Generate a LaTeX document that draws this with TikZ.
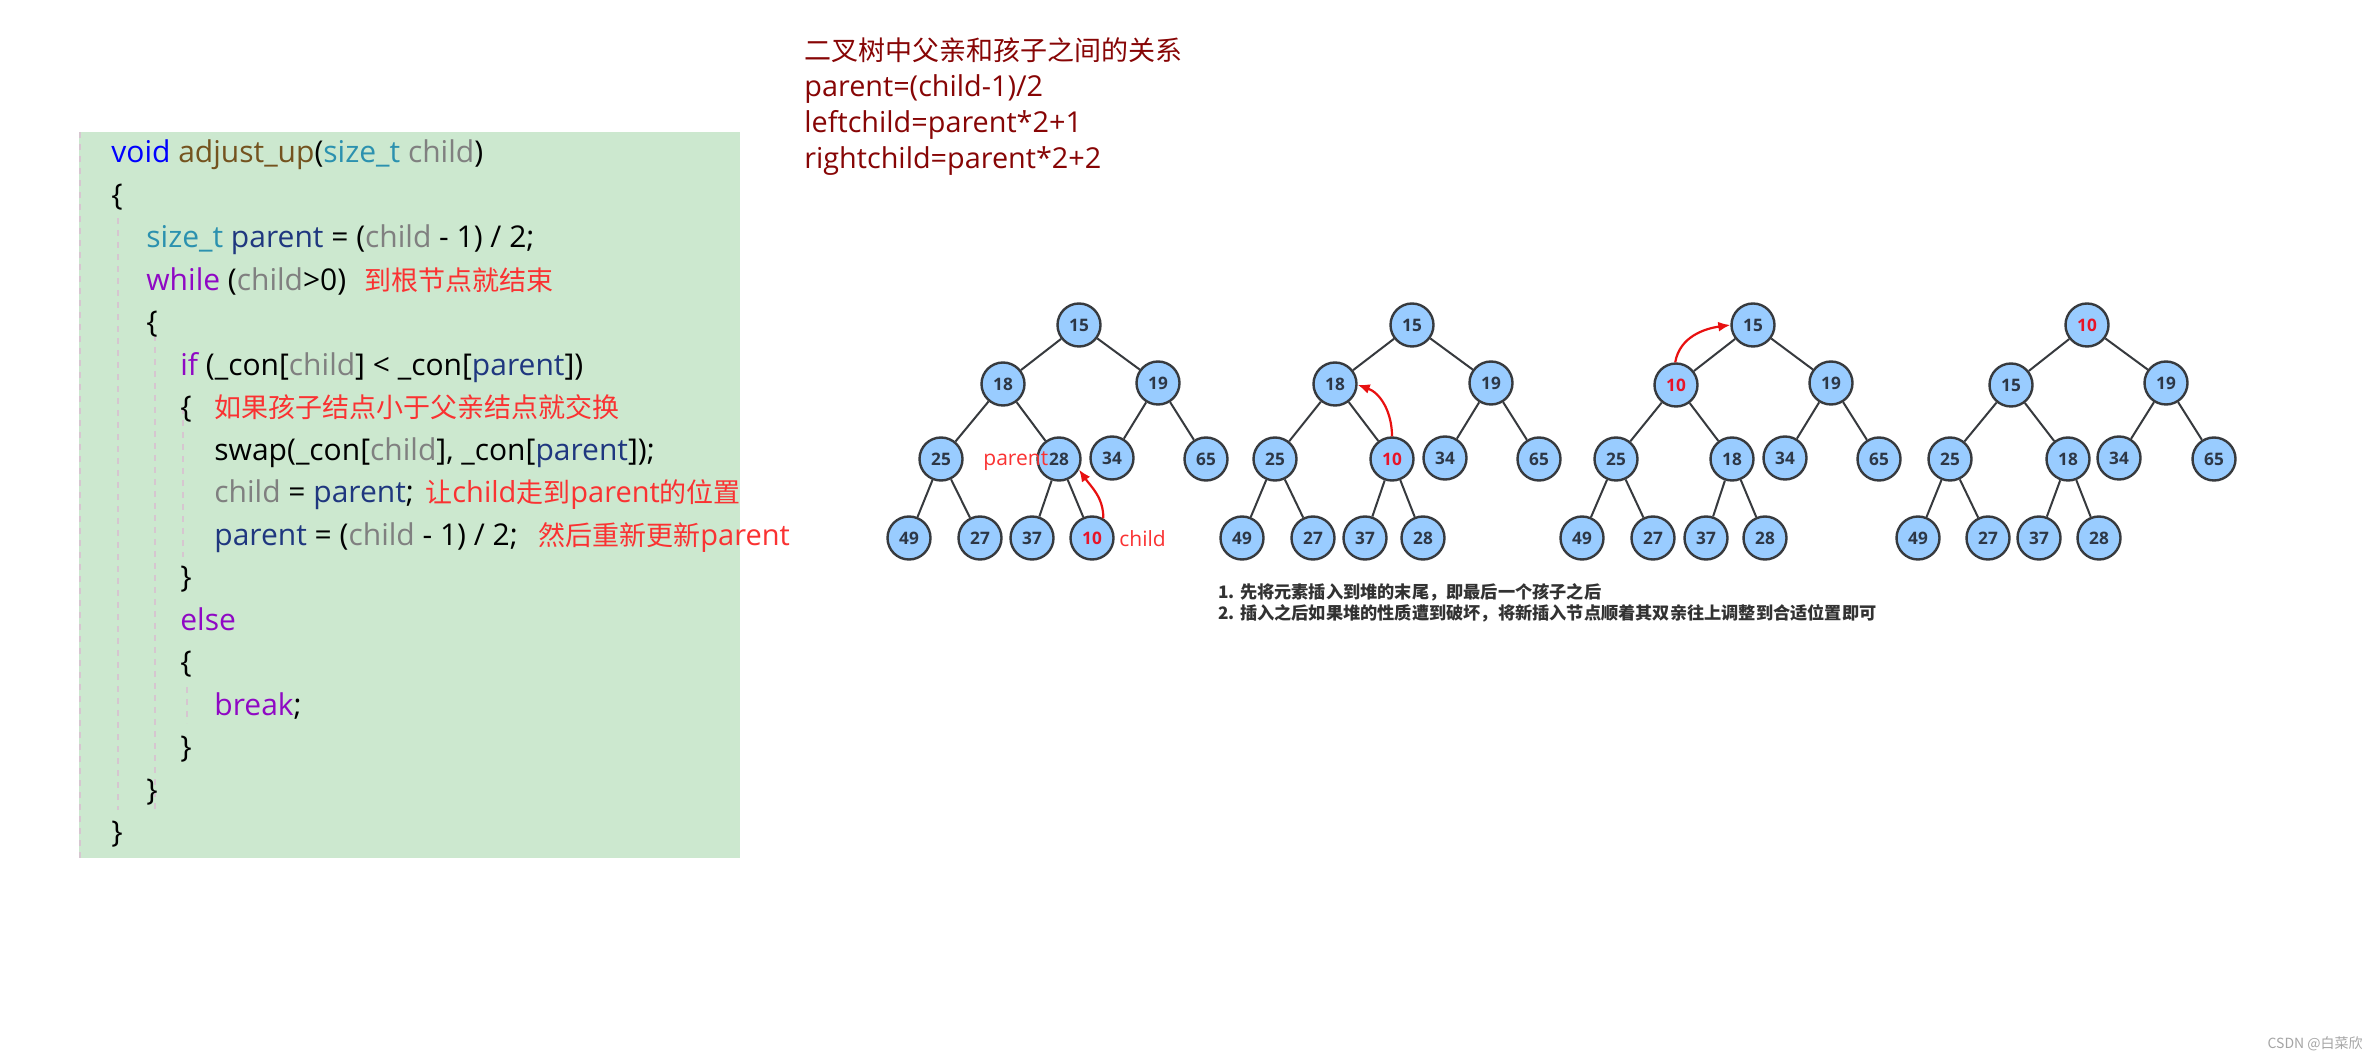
\documentclass[tikz,border=0pt]{standalone}
\usepackage{fontspec}
\setmainfont{Open Sans}
\newfontfamily\cjk{Noto Sans CJK SC}
\newfontfamily\numfont{Open Sans}
\usetikzlibrary{arrows.meta}
\definecolor{codebg}{RGB}{204,232,207}
\definecolor{guidecol}{RGB}{214,198,208}
\definecolor{kwblue}{RGB}{0,0,255}
\definecolor{fncol}{RGB}{116,83,31}
\definecolor{tycol}{RGB}{43,145,175}
\definecolor{chcol}{RGB}{128,128,128}
\definecolor{pacol}{RGB}{31,55,127}
\definecolor{kpcol}{RGB}{143,8,196}
\definecolor{cmcol}{RGB}{250,50,50}
\definecolor{hdcol}{RGB}{135,5,5}
\definecolor{nodefill}{RGB}{153,204,255}
\definecolor{nodeline}{RGB}{55,58,62}
\definecolor{numcol}{RGB}{45,55,70}
\definecolor{numred}{RGB}{232,20,40}
\definecolor{arrred}{RGB}{232,16,16}
\definecolor{notecol}{RGB}{50,50,50}
\definecolor{markcol}{RGB}{165,165,165}
\newcommand\Ckw[1]{\textcolor{kwblue}{#1}}
\newcommand\Cfn[1]{\textcolor{fncol}{#1}}
\newcommand\Cty[1]{\textcolor{tycol}{#1}}
\newcommand\Cvc[1]{\textcolor{chcol}{#1}}
\newcommand\Cvp[1]{\textcolor{pacol}{#1}}
\newcommand\Ckp[1]{\textcolor{kpcol}{#1}}
\newcommand\CJ[1]{{\cjk\fontsize{13.5}{16}\selectfont #1}}
\tikzset{
  codeline/.style={anchor=base west, inner sep=0pt, text=black, font=\fontsize{15}{17}\selectfont},
  cmt/.style={anchor=base west, inner sep=0pt, text=cmcol, font=\fontsize{14.5}{17}\selectfont},
  hdline/.style={anchor=base west, inner sep=0pt, text=hdcol, font=\fontsize{14.4}{17}\selectfont},
  guide/.style={draw=guidecol, line width=1pt, dash pattern=on 3pt off 3pt},
  hn/.style={circle, draw=nodeline, fill=nodefill, line width=1.2pt, minimum size=21.5pt, inner sep=0pt,
    font=\numfont\bfseries\fontsize{8.6}{10}\selectfont, text=numcol},
  hnred/.style={hn, text=numred},
  edge/.style={draw=nodeline, line width=1pt},
  redarrow/.style={draw=arrred, line width=1.1pt, -{Latex[length=6pt,width=5pt]}},
  redlabel/.style={anchor=base west, inner sep=0pt, text=cmcol, font=\fontsize{10.5}{12}\selectfont},
  note/.style={anchor=base west, inner sep=0pt, text=notecol, font=\cjk\bfseries\fontsize{8.6}{11}\selectfont},
}
\begin{document}
\begin{tikzpicture}[x=0.5pt, y=-0.5pt]
\useasboundingbox (0,0) rectangle (2378,1058);
\fill[white] (0,0) rectangle (2378,1058);
% code box
\fill[codebg] (79,132) rectangle (740,858);
\draw[guide] (80,132) -- (80,858);
\draw[guide] (118,218) -- (118,810);
\draw[guide] (155,335) -- (155,810);
\draw[guide] (183,408) -- (183,557);
\draw[guide] (187,687) -- (187,723);
% code lines (baseline = 163 + 42.47 i)
\node[codeline] (c0) at (111,163) {\Ckw{void} \Cfn{adjust\_up}(\Cty{size\_t} \Cvc{child})};
\node[codeline] (c1) at (111,205.5) {\{};
\node[codeline] (c2) at (146,247.9) {\Cty{size\_t} \Cvp{parent} = (\Cvc{child} - 1) / 2;};
\node[codeline] (c3) at (146,290.4) {\Ckp{while} (\Cvc{child}>0)};
\node[cmt] (m3) at (364,290.4) {\CJ{到根节点就结束}};
\node[codeline] (c4) at (146,332.9) {\{};
\node[codeline] (c5) at (180,375.4) {\Ckp{if} (\_con[\Cvc{child}] < \_con[\Cvp{parent}])};
\node[codeline] (c6) at (180,417.8) {\{};
\node[cmt] (m6) at (214,417.8) {\CJ{如果孩子结点小于父亲结点就交换}};
\node[codeline] (c7) at (214,460.3) {swap(\_con[\Cvc{child}], \_con[\Cvp{parent}]);};
\node[codeline] (c8) at (214,502.8) {\Cvc{child} = \Cvp{parent};};
\node[cmt] (m8) at (425,502.8) {\CJ{让}child\CJ{走到}parent\CJ{的位置}};
\node[codeline] (c9) at (214,545.2) {\Cvp{parent} = (\Cvc{child} - 1) / 2;};
\node[cmt] (m9) at (538,545.2) {\CJ{然后重新更新}parent};
\node[codeline] (c10) at (180,587.7) {\}};
\node[codeline] (c11) at (180,630.2) {\Ckp{else}};
\node[codeline] (c12) at (180,672.6) {\{};
\node[codeline] (c13) at (214,715.1) {\Ckp{break};};
\node[codeline] (c14) at (180,757.6) {\}};
\node[codeline] (c15) at (146,800.1) {\}};
\node[codeline] (c16) at (111,842.5) {\}};
% heading
\node[hdline] (h0) at (804,61) {\CJ{二叉树中父亲和孩子之间的关系}};
\node[hdline] (h1) at (804,97) {parent=(child-1)/2};
\node[hdline] (h2) at (804,133) {leftchild=parent*2+1};
\node[hdline] (h3) at (804,169) {rightchild=parent*2+2};
% tree 1
\node[hn] (t1r) at (1079,325) {15};
\node[hn] (t1L) at (1003,384) {18};
\node[hn] (t1R) at (1158,383) {19};
\node[hn] (t1LL) at (941,459) {25};
\node[hn] (t1LR) at (1059,459) {28};
\node[hn] (t1RL) at (1112,458) {34};
\node[hn] (t1RR) at (1206,459) {65};
\node[hn] (t1LLL) at (909,538) {49};
\node[hn] (t1LLR) at (980,538) {27};
\node[hn] (t1LRL) at (1032,538) {37};
\node[hnred] (t1LRR) at (1092,538) {10};
% tree 2
\node[hn] (t2r) at (1412,325) {15};
\node[hn] (t2L) at (1335,384) {18};
\node[hn] (t2R) at (1491,383) {19};
\node[hn] (t2LL) at (1275,459) {25};
\node[hnred] (t2LR) at (1392,459) {10};
\node[hn] (t2RL) at (1445,458) {34};
\node[hn] (t2RR) at (1539,459) {65};
\node[hn] (t2LLL) at (1242,538) {49};
\node[hn] (t2LLR) at (1313,538) {27};
\node[hn] (t2LRL) at (1365,538) {37};
\node[hn] (t2LRR) at (1423,538) {28};
% tree 3
\node[hn] (t3r) at (1753,325) {15};
\node[hnred] (t3L) at (1676,385) {10};
\node[hn] (t3R) at (1831,383) {19};
\node[hn] (t3LL) at (1616,459) {25};
\node[hn] (t3LR) at (1732,459) {18};
\node[hn] (t3RL) at (1785,458) {34};
\node[hn] (t3RR) at (1879,459) {65};
\node[hn] (t3LLL) at (1582,538) {49};
\node[hn] (t3LLR) at (1653,538) {27};
\node[hn] (t3LRL) at (1706,538) {37};
\node[hn] (t3LRR) at (1765,538) {28};
% tree 4
\node[hnred] (t4r) at (2087,325) {10};
\node[hn] (t4L) at (2011,385) {15};
\node[hn] (t4R) at (2166,383) {19};
\node[hn] (t4LL) at (1950,459) {25};
\node[hn] (t4LR) at (2068,459) {18};
\node[hn] (t4RL) at (2119,458) {34};
\node[hn] (t4RR) at (2214,459) {65};
\node[hn] (t4LLL) at (1918,538) {49};
\node[hn] (t4LLR) at (1988,538) {27};
\node[hn] (t4LRL) at (2039,538) {37};
\node[hn] (t4LRR) at (2099,538) {28};
% edges
\foreach \t in {1,2,3,4}{
  \foreach \a/\b in {r/L, r/R, L/LL, L/LR, R/RL, R/RR, LL/LLL, LL/LLR, LR/LRL, LR/LRR}{
    \draw[edge] (t\t\a) -- (t\t\b);
  }
}
% labels and arrows
\node[redlabel] (lp) at (983,466) {parent};
\node[redlabel] (lc) at (1119,547) {child};
\draw[redarrow] (t1LRR.60) to[out=90, in=-55] (t1LR.-28);
\draw[redarrow] (t2LR.90) to[out=90, in=-20] (t2L.-2);
\draw[redarrow] (t3L.92) to[out=80, in=188] (t3r.180);
% notes
\node[note] (n1) at (1218,599) {1. 先将元素插入到堆的末尾，即最后一个孩子之后};
\node[note] (n2) at (1218,620) {2. 插入之后如果堆的性质遭到破坏，将新插入节点顺着其双亲往上调整到合适位置即可};
\node[anchor=base east, inner sep=0pt, text=markcol, font=\cjk\fontsize{7}{8}\selectfont] (wm) at (2363,1048) {CSDN @白菜欣};
\end{tikzpicture}
\end{document}
